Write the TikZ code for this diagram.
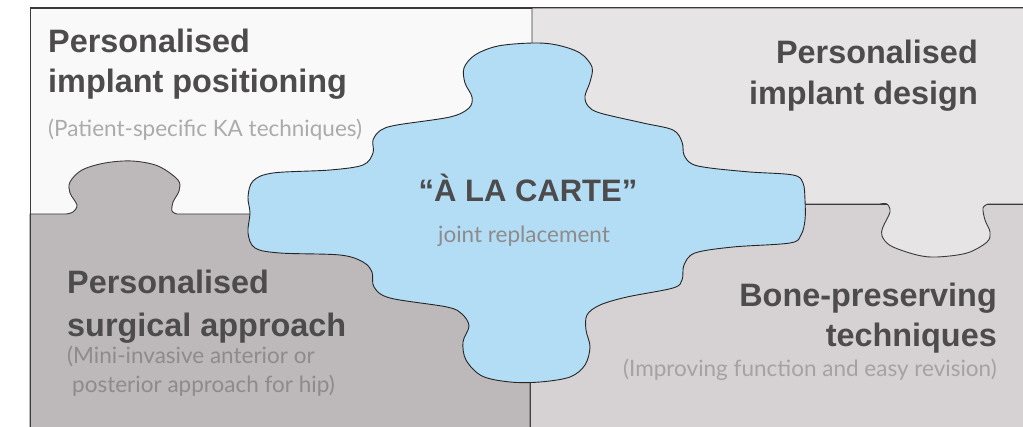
\documentclass[tikz,border=0pt]{standalone}
\usepackage{fontspec}
\setmainfont{Liberation Sans}
\newfontfamily\titlefont{Liberation Sans}
\newfontfamily\lightfont{Lato}
\definecolor{tlcol}{HTML}{F9F9F9}
\definecolor{trcol}{HTML}{E6E4E5}
\definecolor{blcol}{HTML}{BDB9BA}
\definecolor{brcol}{HTML}{D6D2D3}
\definecolor{bluecol}{HTML}{B3DDF5}
\definecolor{titlecol}{HTML}{4D4B4C}
\definecolor{subcol}{HTML}{ABABAB}
\definecolor{subdark}{HTML}{8E8B8C}
\definecolor{linecol}{HTML}{3A3A3A}
\tikzset{
  piece/.style={draw=linecol, line width=0.9pt, line join=round},
  ttl/.style={inner sep=0pt, text=titlecol, font=\titlefont\bfseries\fontsize{32.4}{38}\selectfont},
  subt/.style={inner sep=0pt, text=subcol, font=\lightfont\fontsize{22.5}{26}\selectfont},
  ctr/.style={inner sep=0pt, text=titlecol, font=\titlefont\bfseries\fontsize{31}{36}\selectfont},
}
\begin{document}
\begin{tikzpicture}[x=1pt,y=-1pt]
\useasboundingbox (0,0) rectangle (1023,427);
\clip (0,0) rectangle (1023,427);
% top-left piece
\path[piece, fill=tlcol] (30,8) rectangle (532,214);
% bottom-right piece
\path[piece, fill=brcol] (530,204) rectangle (1040,440);
% bottom-left piece with knob
\path[piece, fill=blcol] (30,440) -- (30,214) -- plot[smooth, tension=0.55] coordinates {(66,214) (73,212) (77,205) (70,193) (70,182) (82,170) (105,163) (132,161) (158,166) (178,180) (179,191) (173,202) (172,211) (177,214)} -- (530,214) -- (530,440) -- cycle;
% top-right piece with knob
\path[piece, fill=trcol] (532,8) -- (532,204) -- plot[smooth, tension=0.55] coordinates {(880,204) (887,204) (890,212) (883,227) (882,236) (891,246) (917,255) (937,257) (967,253) (987,242) (990,232) (985,220) (983,208) (988,204)} -- (1040,204) -- (1040,8) -- cycle;
% frame
\draw[linecol, line width=1pt] (1040,8) -- (30,8) -- (30,440);
% central piece
\path[piece, fill=bluecol, draw=black!85] plot[smooth cycle, tension=0.55] coordinates {
 (533,43) (557,45) (580,53) (592,67) (590,82) (585,96) (588,106) (600,113) (643,123) (673,130) (682,142) (684,155) (692,164) (710,168) (750,172) (793,175) (803,183) (805,200) (805,220) (801,235) (790,243) (733,247) (695,253) (684,265) (682,280) (673,288) (627,297) (600,305) (587,315) (586,330) (590,347) (585,365) (570,377) (540,382) (510,382) (482,376) (466,360) (463,342) (469,326) (462,314) (447,307) (390,298) (374,287) (372,272) (363,262) (340,255) (280,253) (255,248) (248,233) (250,213) (248,197) (253,181) (273,173) (330,170) (363,165) (373,153) (373,140) (381,130) (397,125) (450,117) (469,108) (472,97) (465,83) (464,68) (475,55) (498,46)};
% texts
\node[ttl, anchor=base west] (t1a) at (48,53) {Personalised};
\node[ttl, anchor=base west] (t1b) at (48,93) {implant positioning};
\node[subt, anchor=base west] (s1) at (48,137) {(Patient-specific KA techniques)};
\node[ttl, anchor=base east] (t2a) at (978,64) {Personalised};
\node[ttl, anchor=base east] (t2b) at (978,105) {implant design};
\node[ttl, anchor=base west] (t3a) at (67,294) {Personalised};
\node[ttl, anchor=base west] (t3b) at (67,337) {surgical approach};
\node[subt, text=subdark, anchor=base west] (s3a) at (67,364) {(Mini-invasive anterior or};
\node[subt, text=subdark, anchor=base west] (s3b) at (72,393) {posterior approach for hip)};
\node[ttl, anchor=base east] (t4a) at (997,307) {Bone-preserving};
\node[ttl, anchor=base east] (t4b) at (997,347) {techniques};
\node[subt, text=subdark!80, anchor=base east] (s4) at (997,377) {(Improving function and easy revision)};
\node[ctr, anchor=base] (c1) at (528,202) {“À LA CARTE”};
\node[subt, text=subdark, anchor=base] (c2) at (524,243) {joint replacement};
\end{tikzpicture}
\end{document}
